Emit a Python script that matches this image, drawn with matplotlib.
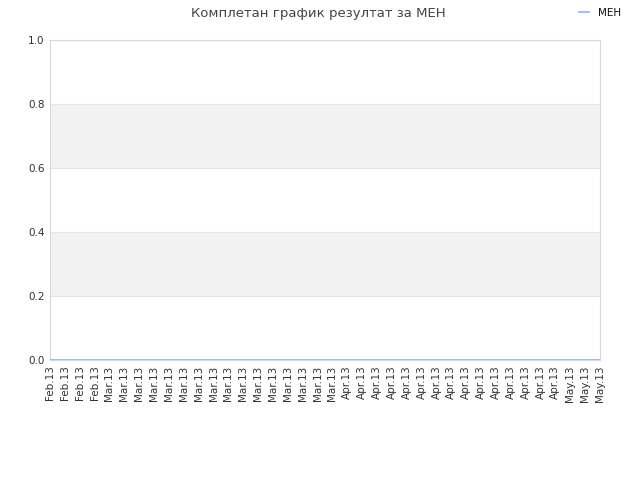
import matplotlib
matplotlib.use("Agg")
import matplotlib.pyplot as plt

categories = ["Feb.13"] * 4 + ["Mar.13"] * 16 + ["Apr.13"] * 15 + ["May.13"] * 3
values = [0] * len(categories)
yticks = [0.0, 0.2, 0.4, 0.6, 0.8, 1.0]
series_name = "МЕН"
title = "Комплетан график резултат за МЕН"

fig = plt.figure(figsize=(6.4, 4.8), dpi=100)
ax = fig.add_axes([50 / 640, 1 - 360 / 480, 550 / 640, 320 / 480])

x = list(range(len(categories)))
for lo, hi in [(0.2, 0.4), (0.6, 0.8)]:
    ax.axhspan(lo, hi, color="#f2f2f2", zorder=0, lw=0)
for y in yticks:
    ax.axhline(y, color="#e6e6e6", lw=0.8, zorder=0.5)

ax.plot(x, values, color="#99c2ee", lw=1.5, label=series_name, zorder=3)
ax.set_xlim(0, len(categories) - 1)
ax.set_ylim(0, 1)
ax.set_yticks(yticks)
ax.set_yticklabels([f"{v:.1f}" for v in yticks], fontsize=7.5, color="#333333")
ax.set_xticks(x)
ax.set_xticklabels(categories, rotation=90, fontsize=7.5, color="#333333")
ax.tick_params(axis="both", length=0, pad=4)
for s in ax.spines.values():
    s.set_color("#d8d8d8")
    s.set_linewidth(0.8)

fig.text(318 / 640, 1 - 13 / 480, title, ha="center", va="center", fontsize=9.5, color="#444444")
leg = fig.legend(loc="center", bbox_to_anchor=(600 / 640, 1 - 13 / 480), frameon=False,
                 fontsize=7.5, handlelength=1.0, handletextpad=0.8)
for t in leg.get_texts():
    t.set_color("#111111")

fig.savefig("out.png", dpi=100)
